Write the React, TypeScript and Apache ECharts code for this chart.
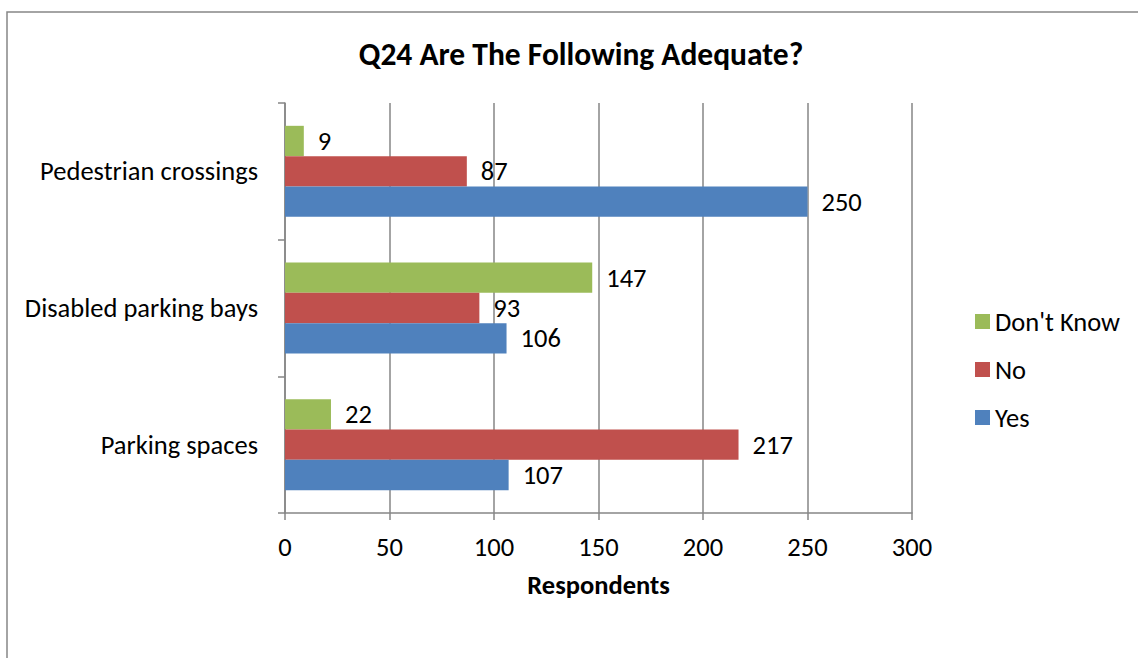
import React, { useEffect, useRef } from "react";
import * as echarts from "echarts";

const categories = ["Parking spaces", "Disabled parking bays", "Pedestrian crossings"];
const yesValues = [107, 106, 250];
const noValues = [217, 93, 87];
const dontKnowValues = [22, 147, 9];
const xTicks = [0, 50, 100, 150, 200, 250, 300];
const legendOrder = ["Don't Know", "No", "Yes"];

const FONT = "Carlito, Lato, 'Liberation Sans', sans-serif";
const FS = 26.5;

export default function App() {
  const ref = useRef<HTMLDivElement>(null);
  useEffect(() => {
    document.body.style.margin = "0";
    const chart = echarts.init(ref.current!, null, { renderer: "svg" });
    const label = {
      show: true,
      position: "right",
      distance: 14,
      color: "#000",
      fontSize: FS,
      fontFamily: FONT,
    };
    const mk = (name: string, data: number[], color: string) => ({
      name,
      type: "bar",
      data,
      barGap: "0%",
      barCategoryGap: "33.4%",
      itemStyle: { color },
      label,
    });
    chart.setOption({
      animation: false,
      textStyle: { fontFamily: FONT },
      title: {
        text: "Q24 Are The Following Adequate?",
        left: 576,
        top: 33,
        textAlign: "center",
        textStyle: { fontSize: 31.5, fontWeight: "bold", color: "#000", fontFamily: FONT },
      },
      graphic: [
        {
          type: "rect",
          shape: { x: 7, y: 12, width: 1300, height: 800 },
          style: { fill: "none", stroke: "#868686", lineWidth: 1.5 },
          silent: true,
        },
      ],
      legend: {
        orient: "vertical",
        left: 970,
        top: 303,
        itemWidth: 15,
        itemHeight: 15,
        itemGap: 21,
        data: legendOrder,
        icon: "rect",
        textStyle: { fontSize: FS, color: "#000", fontFamily: FONT },
      },
      grid: { left: 285, right: 226, top: 103, bottom: 145, containLabel: false },
      xAxis: {
        type: "value",
        min: xTicks[0],
        max: xTicks[xTicks.length - 1],
        interval: 50,
        name: "Respondents",
        nameLocation: "middle",
        nameGap: 58,
        nameTextStyle: { fontSize: FS, fontWeight: "bold", color: "#000", fontFamily: FONT },
        axisLine: { show: true, lineStyle: { color: "#868686", width: 1.5 } },
        axisTick: { show: true, length: 7, lineStyle: { color: "#868686", width: 1.5 } },
        axisLabel: { fontSize: FS, color: "#000", margin: 20, fontFamily: FONT },
        splitLine: { show: true, lineStyle: { color: "#868686", width: 1.5 } },
      },
      yAxis: {
        type: "category",
        data: categories,
        axisLine: { show: true, lineStyle: { color: "#868686", width: 1.5 } },
        axisTick: { show: true, length: 7, lineStyle: { color: "#868686", width: 1.5 } },
        axisLabel: { fontSize: FS, color: "#000", margin: 27, fontFamily: FONT },
        splitLine: { show: false },
      },
      series: [
        mk("Don't Know", dontKnowValues, "#9BBB59"),
        mk("No", noValues, "#C0504D"),
        mk("Yes", yesValues, "#4F81BD"),
      ],
    });
    return () => chart.dispose();
  }, []);
  return <div ref={ref} style={{ width: 1138, height: 658 }} />;
}
